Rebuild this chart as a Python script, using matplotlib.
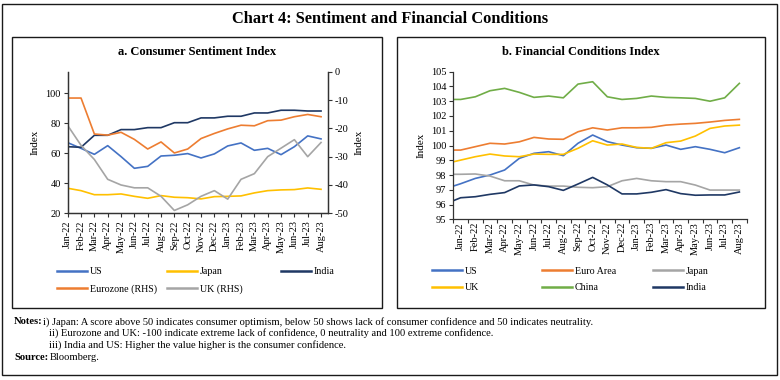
import matplotlib
matplotlib.use('Agg')
import matplotlib.patches as patches
import matplotlib.pyplot as plt
from matplotlib.lines import Line2D
import numpy as np

plt.rcParams['font.family'] = ['Liberation Serif', 'DejaVu Serif']
plt.rcParams['axes.unicode_minus'] = False

W, H = 780, 380

months = ['Jan-22', 'Feb-22', 'Mar-22', 'Apr-22', 'May-22', 'Jun-22', 'Jul-22', 'Aug-22',
          'Sep-22', 'Oct-22', 'Nov-22', 'Dec-22', 'Jan-23', 'Feb-23', 'Mar-23', 'Apr-23',
          'May-23', 'Jun-23', 'Jul-23', 'Aug-23']

# a. consumer sentiment (US, Japan, India on left axis; Eurozone, UK on right axis)
cs_us = [67.1, 63.3, 59.3, 65.1, 57.8, 50.0, 51.3, 58.2, 58.7, 59.8,
         56.9, 59.6, 64.9, 66.9, 62.0, 63.3, 59.1, 64.4, 71.6, 69.6]
cs_japan = [36.7, 35.1, 32.4, 32.4, 32.9, 31.3, 30.0, 31.8, 30.7, 30.4,
            29.6, 31.1, 31.3, 31.6, 33.6, 35.1, 35.6, 35.8, 36.9, 36.0]
cs_india = [64.4, 64.0, 72.0, 72.0, 75.8, 75.8, 77.1, 77.1, 80.4, 80.4,
            83.6, 83.6, 84.7, 84.7, 86.9, 86.9, 88.7, 88.7, 88.2, 88.2]
cs_eurozone = [-9.3, -9.3, -22.0, -22.4, -21.4, -23.9, -27.3, -24.8, -28.7, -27.3,
               -23.6, -21.8, -20.2, -18.9, -19.1, -17.3, -17.1, -15.9, -15.1, -15.9]
cs_uk = [-19, -26, -31, -38, -40, -41, -41, -44, -49, -47,
         -44, -42, -45, -38, -36, -30, -27, -24, -30, -25]

# b. financial conditions, Dec-21 first (clipped at the left edge), then Jan-22 .. Aug-23
fc_months = ['Dec-21'] + months
fc_us = [97.09, 97.41, 97.77, 98.00, 98.34, 99.13, 99.47, 99.58, 99.31, 100.15, 100.71,
         100.26, 100.03, 99.85, 99.81, 100.03, 99.74, 99.92, 99.74, 99.51, 99.85]
fc_euro = [99.69, 99.69, 99.92, 100.15, 100.10, 100.25, 100.55, 100.44, 100.42, 100.93, 101.20,
           101.05, 101.20, 101.20, 101.23, 101.38, 101.45, 101.50, 101.59, 101.70, 101.77]
fc_japan = [98.05, 98.05, 98.07, 97.93, 97.61, 97.61, 97.32, 97.25, 97.25, 97.17, 97.14,
            97.21, 97.61, 97.77, 97.61, 97.55, 97.55, 97.32, 96.98, 96.98, 96.98]
fc_uk = [98.78, 99.01, 99.24, 99.42, 99.29, 99.24, 99.42, 99.40, 99.40, 99.81, 100.32,
         100.03, 100.10, 99.87, 99.81, 100.19, 100.30, 100.64, 101.16, 101.32, 101.38]
fc_china = [103.12, 103.12, 103.30, 103.71, 103.87, 103.60, 103.26, 103.35, 103.23, 104.16, 104.32,
            103.30, 103.12, 103.19, 103.35, 103.26, 103.23, 103.19, 103.00, 103.23, 104.21]
fc_india = [96.06, 96.46, 96.53, 96.69, 96.81, 97.26, 97.33, 97.21, 96.96, 97.39, 97.84,
            97.33, 96.72, 96.72, 96.83, 97.01, 96.74, 96.63, 96.65, 96.65, 96.85]

c_blue = '#4472C4'
c_orange = '#ED7D31'
c_grey = '#A5A5A5'
c_yellow = '#FFC000'
c_green = '#70AD47'
c_navy = '#1F3864'
lw = 1.2
fs = 7.5


def fx(px):
    return px / W


def fy(py):
    return 1 - py / H


def box(fig, x0, y0, x1, y1, lwd=1.0):
    fig.patches.append(patches.Rectangle((fx(x0), fy(y1)), fx(x1) - fx(x0), fy(y0) - fy(y1),
                                         transform=fig.transFigure, fill=False,
                                         edgecolor='#1a1a1a', lw=lwd))


def style_ax(ax):
    for s in ['left', 'bottom', 'right']:
        ax.spines[s].set_color('#333333')
        ax.spines[s].set_linewidth(0.9)
    ax.spines['top'].set_visible(False)
    ax.tick_params(direction='out', length=3, width=0.8, color='#333333', labelsize=fs, pad=2)


def col_legend(fig, handles, x, y):
    fig.legend(handles=handles, loc='center left', bbox_to_anchor=(fx(x), fy(y)), frameon=False,
               fontsize=7.2, handlelength=3.0, handletextpad=0.3, borderpad=0, borderaxespad=0,
               labelspacing=0.75)


fig = plt.figure(figsize=(W / 100, H / 100), dpi=100)

# frames
box(fig, 2, 4, 777, 375)
box(fig, 12, 37, 382, 308)
box(fig, 397, 37, 765, 308)

fig.text(fx(390), fy(19), 'Chart 4: Sentiment and Financial Conditions', ha='center', va='center',
         fontsize=11.8, fontweight='bold')

# ---------------- panel a
ax = fig.add_axes([fx(67.7), fy(213.3), fx(327.7) - fx(67.7), fy(71.7) - fy(213.3)])
ax2 = ax.twinx()
xa = np.arange(len(months))
ax.plot(xa, cs_us, color=c_blue, lw=lw)
ax.plot(xa, cs_japan, color=c_yellow, lw=lw)
ax.plot(xa, cs_india, color=c_navy, lw=lw)
ax2.plot(xa, cs_eurozone, color=c_orange, lw=lw)
ax2.plot(xa, cs_uk, color=c_grey, lw=lw)
ax.set_xlim(0, len(months) - 0.5)
ax.set_ylim(20, 114.4)
ax.set_yticks([20, 40, 60, 80, 100])
ax2.set_ylim(-50, 0)
ax2.set_yticks([-50, -40, -30, -20, -10, 0])
ax.set_xticks(xa)
ax.set_xticklabels(months, rotation=90)
style_ax(ax)
style_ax(ax2)
ax2.spines['top'].set_visible(False)
ax.set_ylabel('Index', fontsize=8, labelpad=4)
ax2.set_ylabel('Index', fontsize=8, labelpad=4, rotation=90)
fig.text(fx(197), fy(52), 'a. Consumer Sentiment Index', ha='center', va='center',
         fontsize=9, fontweight='bold')

col_legend(fig, [Line2D([0], [0], color=c_blue, lw=1.8, label='US'),
                 Line2D([0], [0], color=c_orange, lw=1.8, label='Eurozone (RHS)')], 57, 280.5)
col_legend(fig, [Line2D([0], [0], color=c_yellow, lw=1.8, label='Japan'),
                 Line2D([0], [0], color=c_grey, lw=1.8, label='UK (RHS)')], 167, 280.5)
col_legend(fig, [Line2D([0], [0], color=c_navy, lw=1.8, label='India')], 281, 271.7)

# ---------------- panel b
bx = fig.add_axes([fx(453.3), fy(219.3), fx(746.7) - fx(453.3), fy(71.7) - fy(219.3)])
xb = np.arange(len(fc_months)) - 1
bx.plot(xb, fc_us, color=c_blue, lw=lw)
bx.plot(xb, fc_euro, color=c_orange, lw=lw)
bx.plot(xb, fc_japan, color=c_grey, lw=lw)
bx.plot(xb, fc_uk, color=c_yellow, lw=lw)
bx.plot(xb, fc_china, color=c_green, lw=lw)
bx.plot(xb, fc_india, color=c_navy, lw=lw)
bx.set_xlim(-0.5, len(months) - 0.5)
bx.set_ylim(95, 105)
bx.set_yticks(np.arange(95, 106, 1))
bx.set_xticks(np.arange(len(months)))
bx.set_xticklabels(months, rotation=90)
bx.set_xticks(np.arange(len(months) + 1) - 0.5, minor=True)
style_ax(bx)
bx.spines['right'].set_visible(False)
bx.tick_params(axis='x', which='major', length=0)
bx.tick_params(axis='x', which='minor', direction='out', length=3, width=0.8, color='#333333')
bx.set_ylabel('Index', fontsize=8, labelpad=4)
fig.text(fx(581), fy(52), 'b. Financial Conditions Index', ha='center', va='center',
         fontsize=9, fontweight='bold')

col_legend(fig, [Line2D([0], [0], color=c_blue, lw=1.8, label='US'),
                 Line2D([0], [0], color=c_yellow, lw=1.8, label='UK')], 432, 279.5)
col_legend(fig, [Line2D([0], [0], color=c_orange, lw=1.8, label='Euro Area'),
                 Line2D([0], [0], color=c_green, lw=1.8, label='China')], 542, 279.5)
col_legend(fig, [Line2D([0], [0], color=c_grey, lw=1.8, label='Japan'),
                 Line2D([0], [0], color=c_navy, lw=1.8, label='India')], 653, 279.5)

# ---------------- notes
nfs = 7.6
fig.text(fx(14), fy(322), 'Notes:', fontsize=nfs, fontweight='bold', va='center')
fig.text(fx(43), fy(322), 'i) Japan: A score above 50 indicates consumer optimism, below 50 shows lack of '
         'consumer confidence and 50 indicates neutrality.', fontsize=nfs, va='center')
fig.text(fx(49), fy(333.5), 'ii) Eurozone and UK: -100 indicate extreme lack of confidence, 0 neutrality '
         'and 100 extreme confidence.', fontsize=nfs, va='center')
fig.text(fx(49), fy(345), 'iii) India and US: Higher the value higher is the consumer confidence.',
         fontsize=nfs, va='center')
fig.text(fx(14), fy(358), 'Source:', fontsize=nfs, fontweight='bold', va='center')
fig.text(fx(50), fy(358), 'Bloomberg.', fontsize=nfs, va='center')

fig.savefig('out.png', dpi=100)
